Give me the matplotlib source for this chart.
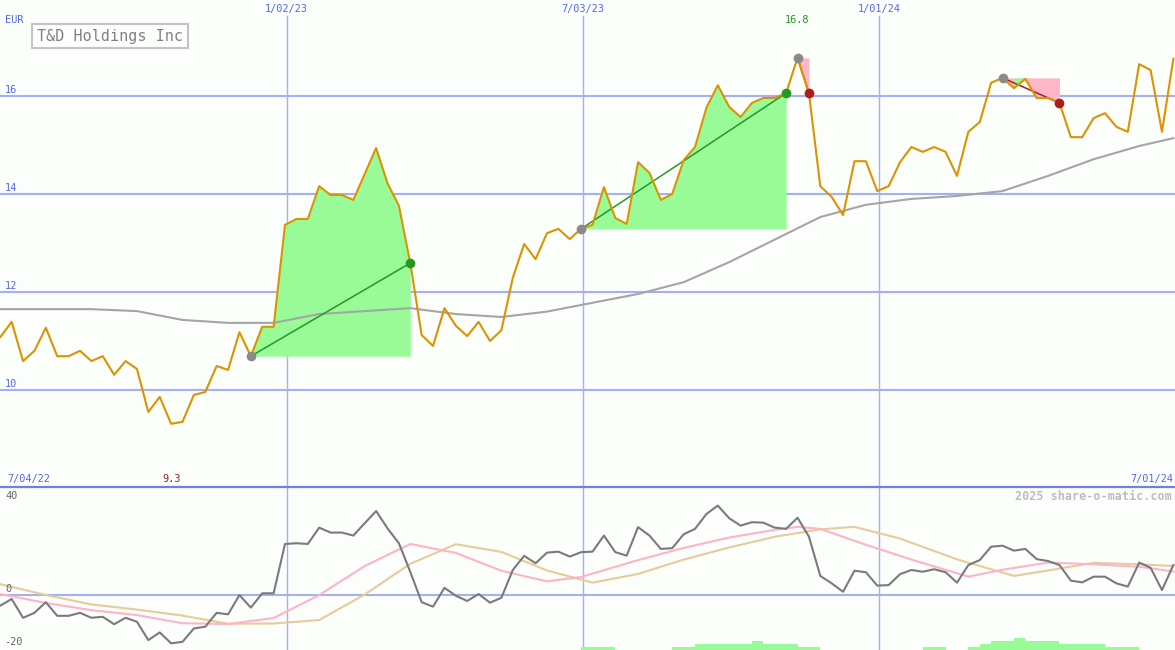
import matplotlib
matplotlib.use('Agg')
import matplotlib.pyplot as plt
import matplotlib.dates as mdates
from matplotlib.lines import Line2D
import numpy as np
import pandas as pd

# weekly closes, T&D Holdings (EUR)
weeks = pd.date_range('2022-07-10', periods=104, freq='7D')
price = [11.08, 11.39, 10.59, 10.80, 11.27, 10.69, 10.69, 10.80, 10.59, 10.69,
         10.31, 10.59, 10.43, 9.55, 9.86, 9.31, 9.35, 9.90, 9.96, 10.49,
         10.41, 11.18, 10.69, 11.29, 11.29, 13.37, 13.49, 13.49, 14.16, 13.98,
         13.98, 13.88, 14.41, 14.94, 14.22, 13.76, 12.59, 11.12, 10.90, 11.67,
         11.31, 11.10, 11.39, 11.00, 11.22, 12.29, 12.98, 12.67, 13.20, 13.29,
         13.08, 13.29, 13.37, 14.14, 13.51, 13.39, 14.65, 14.43, 13.88, 14.00,
         14.69, 14.96, 15.76, 16.22, 15.78, 15.57, 15.86, 15.96, 15.96, 16.06,
         16.78, 16.06, 14.16, 13.94, 13.57, 14.67, 14.67, 14.06, 14.16, 14.65,
         14.96, 14.86, 14.96, 14.86, 14.37, 15.27, 15.47, 16.27, 16.37, 16.16,
         16.35, 15.96, 15.96, 15.86, 15.16, 15.16, 15.55, 15.65, 15.37, 15.27,
         16.65, 16.53, 15.27, 16.76]

# moving average (read at some weeks)
ma_k = [0, 4, 8, 12, 16, 20, 24, 28, 32, 36, 40, 44, 48, 52, 56, 60, 64, 68,
        72, 76, 80, 84, 88, 92, 96, 100, 103]
ma_v = [11.65, 11.65, 11.65, 11.61, 11.43, 11.37, 11.37, 11.55, 11.61, 11.67,
        11.55, 11.49, 11.60, 11.78, 11.96, 12.20, 12.61, 13.07, 13.53, 13.78,
        13.90, 13.96, 14.06, 14.37, 14.71, 14.98, 15.14]

# trades: start week, end week, long?
trade_start = [22, 51, 70, 88]
trade_end = [36, 69, 71, 93]
trade_up = [True, True, False, False]

# lower panel
mom = [-4.3, -1.6, -9.2, -7.2, -2.9, -8.4, -8.4, -7.2, -9.2, -8.8,
       -11.8, -9.2, -10.8, -18.2, -15.1, -19.5, -18.9, -13.5, -12.8, -7.2,
       -7.8, 0.0, -5.1, 0.7, 0.7, 20.6, 20.9, 20.6, 27.2, 25.2,
       25.2, 24.0, 29.0, 33.9, 26.9, 20.9, 9.3, -2.9, -4.7, 2.9,
       -0.3, -2.4, 0.4, -3.1, -1.1, 10.1, 15.8, 12.8, 17.1, 17.5,
       15.5, 17.3, 17.5, 24.0, 17.3, 15.9, 27.4, 24.0, 18.6, 18.9,
       24.5, 26.7, 32.7, 36.1, 31.0, 28.0, 29.4, 29.2, 27.2, 26.7,
       31.2, 23.6, 7.7, 4.7, 1.3, 9.8, 9.2, 3.8, 4.0, 8.4,
       10.1, 9.4, 10.4, 9.2, 5.0, 12.1, 14.1, 19.5, 19.9, 17.9,
       18.6, 14.5, 13.7, 12.1, 5.8, 5.1, 7.4, 7.4, 4.7, 3.4,
       13.1, 11.0, 2.0, 12.1]
pink_k = [0, 4, 8, 12, 16, 20, 24, 28, 32, 36, 40, 44, 48, 51, 56, 60, 64, 68,
          70, 72, 76, 80, 85, 88, 92, 96, 100, 103]
pink_v = [0.4, -3.2, -6.1, -8.1, -11.4, -11.7, -9.3, 0.0, 11.7, 20.6, 17.0, 9.8,
          5.5, 7.3, 14.1, 19.0, 23.2, 26.3, 27.5, 26.7, 20.3, 14.3, 7.4, 10.2,
          13.1, 12.4, 11.4, 9.5]
tan_k = [0, 4, 8, 12, 16, 20, 24, 28, 32, 36, 40, 44, 48, 52, 56, 60, 64, 68,
         72, 75, 79, 84, 89, 92, 96, 100, 103]
tan_v = [4.4, 0.0, -3.8, -5.9, -8.3, -11.6, -11.5, -10.1, 0.2, 12.6, 20.5, 17.4,
         9.9, 5.0, 8.5, 14.3, 19.2, 23.5, 26.5, 27.5, 22.8, 14.4, 7.7, 9.9, 13.0,
         12.4, 11.7]
bar_k = [51, 52, 53, 59, 60, 61, 62, 63, 64, 65, 66, 67, 68, 69, 70, 71, 81, 82,
         85, 86, 87, 88, 89, 90, 91, 92, 93, 94, 95, 96, 97, 98, 99]
bar_lvl = [1, 1, 1, 1, 1, 2, 2, 2, 2, 2, 3, 2, 2, 2, 1, 1, 1, 1,
           1, 2, 3, 3, 4, 3, 3, 3, 2, 2, 2, 2, 1, 1, 1]

vlines = ['2023-01-02', '2023-07-03', '2024-01-01']
vlabels = ['1/02/23', '7/03/23', '1/01/24']
price_ticks = [10, 12, 14, 16]

bg = '#fcfefc'
grid_c = '#a3b0f2'
blue_txt = '#5566ee'
orange = '#db9300'
fill_green = '#98fb98'
fill_pink = '#ffb6c8'
line_green = '#229922'
dark_red = '#a61e1e'
mono = 'DejaVu Sans Mono'
fs = 7.4

W, H = 1175, 650
xd = mdates.date2num(weeks)
xmin = mdates.date2num(pd.Timestamp('2022-07-09 20:00'))
xmax = mdates.date2num(pd.Timestamp('2024-07-01'))
p = np.array(price)


def fpos(x, y):
    return x / W, 1 - y / H


fig = plt.figure(figsize=(W / 100, H / 100), dpi=100, facecolor=bg)
ax = fig.add_axes([0, 163 / H, 1, 487 / H])
ax2 = fig.add_axes([0, 0, 1, 163 / H])
for a in (ax, ax2):
    a.set_facecolor(bg)
    a.set_xlim(xmin, xmax)
    a.set_xticks([])
    a.set_yticks([])
    for s in a.spines.values():
        s.set_visible(False)

ax.set_ylim(8.02, 17.96)
ax2.set_ylim(-22.2, 43.6)

# grid
for d in vlines:
    x = mdates.date2num(pd.Timestamp(d))
    ax.axvline(x, ymin=0, ymax=(487 - 16) / 487, color=grid_c, lw=1.0, zorder=1)
    ax2.axvline(x, color=grid_c, lw=1.0, zorder=1)
for v in price_ticks:
    ax.axhline(v, color=grid_c, lw=1.5, zorder=1)
    ax.text(5 / W, v + 0.03, str(v), transform=ax.get_yaxis_transform(),
            ha='left', va='bottom', color=blue_txt, family=mono, fontsize=fs)
ax2.axhline(0, color=grid_c, lw=1.5, zorder=1)

# trades
for s, e, up in zip(trade_start, trade_end, trade_up):
    base = price[s]
    xs = xd[s:e + 1]
    ys = p[s:e + 1]
    if up:
        ax.fill_between(xs, base, ys, color=fill_green, lw=0, zorder=2)
        lc = line_green
    else:
        ax.fill_between(xs, base, ys, color=fill_pink, lw=0, zorder=2)
        for i in range(s, e):
            if price[i + 1] > price[i]:
                ax.fill_between(xd[i:i + 2], base, p[i:i + 2], color=fill_green,
                                lw=0, zorder=2.1)
        lc = dark_red
    ax.plot([xd[s], xd[e]], [price[s], price[e]], color=lc, lw=1.1, zorder=4)

ax.plot([xd[k] for k in ma_k], ma_v, color='#a5a5a5', lw=1.5, zorder=3)
ax.plot(xd, price, color=orange, lw=1.5, zorder=5)

for s, e, up in zip(trade_start, trade_end, trade_up):
    ax.plot(xd[s], price[s], 'o', color='#8a8a8a', ms=7, mec='none', zorder=6)
    ax.plot(xd[e], price[e], 'o', color=line_green if up else dark_red, ms=7,
            mec='none', zorder=6)

# lower panel
step = 1.25
ax2.bar([xd[k] for k in bar_k], [l * step for l in bar_lvl], width=7,
        bottom=-22.2, align='edge', color=fill_green, lw=0, zorder=2)
ax2.plot([xd[k] for k in tan_k], tan_v, color='#e5cc99', lw=1.5, zorder=3)
ax2.plot([xd[k] for k in pink_k], pink_v, color='#ffb3c8', lw=1.5, zorder=4)
ax2.plot(xd, mom, color='#7a7a7a', lw=1.5, zorder=5)

# separator between panels
fig.add_artist(Line2D([0, 1], [163 / H, 163 / H], transform=fig.transFigure,
                      color='#6e7fe8', lw=1.6, zorder=10))

# texts
for d, lab in zip(vlines, vlabels):
    ax.text(mdates.date2num(pd.Timestamp(d)), 1 - 9 / 487, lab,
            transform=ax.get_xaxis_transform(), ha='center', va='center',
            color=blue_txt, family=mono, fontsize=fs)
fig.text(*fpos(5, 20), 'EUR', ha='left', va='center', color=blue_txt,
         family=mono, fontsize=fs)
fig.text(*fpos(7, 479), '7/04/22', ha='left', va='center', color=blue_txt,
         family=mono, fontsize=fs)
fig.text(*fpos(1173, 479), '7/01/24', ha='right', va='center', color=blue_txt,
         family=mono, fontsize=fs)

kmax = price.index(max(price))
kmin = price.index(min(price))
ax.text(xd[kmax], 1 - 20 / 487, f'{max(price):.1f}', transform=ax.get_xaxis_transform(),
        ha='center', va='center', color=line_green, family=mono, fontsize=fs)
ax.text(xd[kmin], 1 - 479 / 487, f'{min(price):.1f}', transform=ax.get_xaxis_transform(),
        ha='center', va='center', color=dark_red, family=mono, fontsize=fs)

fig.text(*fpos(37, 36), 'T&D Holdings Inc', ha='left', va='center', color='#808080',
         family=mono, fontsize=10.9,
         bbox=dict(boxstyle='square,pad=0.3', facecolor=bg, edgecolor='#c4c4c4', lw=1.5))

fig.text(*fpos(5, 496), '40', ha='left', va='center', color='#666666', family=mono, fontsize=fs)
fig.text(*fpos(5, 589), '0', ha='left', va='center', color='#666666', family=mono, fontsize=fs)
fig.text(*fpos(4, 642), '-20', ha='left', va='center', color='#666666', family=mono, fontsize=fs)
fig.text(*fpos(1172, 496), '2025 share-o-matic.com', ha='right', va='center',
         color='#bdbdbd', family=mono, fontsize=8.5, fontweight='bold')

fig.savefig('out.png', dpi=100, facecolor=bg)
